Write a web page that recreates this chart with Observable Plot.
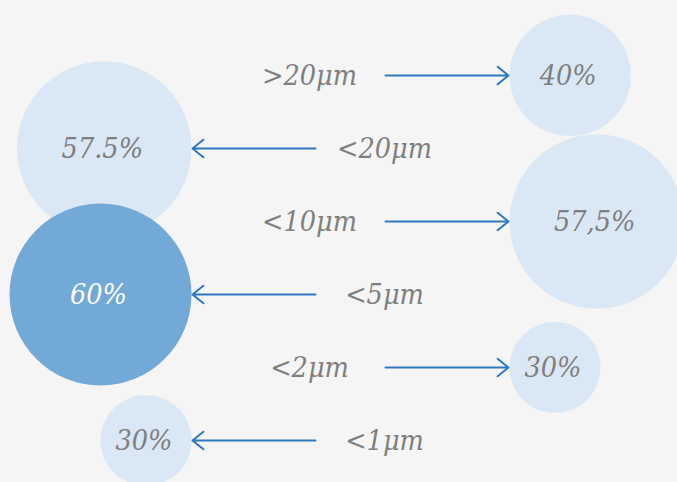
<!DOCTYPE html>
<html><head><meta charset="utf-8">
<script src="https://cdn.jsdelivr.net/npm/d3@7"></script>
<script src="https://cdn.jsdelivr.net/npm/@observablehq/plot@0.6"></script>
<style>html,body{margin:0;padding:0;background:#f5f5f5;overflow:hidden}</style>
</head><body><div id="chart"></div>
<script>
// Data
const sizes = [">20μm", "<20μm", "<10μm", "<5μm", "<2μm", "<1μm"];
const shares = [40, 57.5, 57.5, 60, 30, 30];
const shareLabels = ["40%", "57.5%", "57,5%", "60%", "30%", "30%"];
const sides = ["right", "left", "right", "left", "right", "left"];
const highlighted = [false, false, false, true, false, false];

// Diagram layout (horizontal guide positions)
const W = 677, H = 482;
const layout = {leftEdge: 191, rightEdge: 509, leftArrowStart: 315, rightArrowStart: 385, labelForRight: 309, labelForLeft: 384};

const rScale = Plot.scale({r: {type: "linear", domain: [0, 60], range: [0, 91]}});
const rows = sizes.map((s, i) => {
  const r = rScale.apply(shares[i]);
  const right = sides[i] === "right";
  return {
    size: s, share: shares[i], label: shareLabels[i], side: sides[i], hi: highlighted[i],
    cx: right ? layout.rightEdge + r : layout.leftEdge - r,
    ax1: right ? layout.rightArrowStart : layout.leftArrowStart,
    ax2: right ? layout.rightEdge - 1 : layout.leftEdge + 1,
    lx: right ? layout.labelForRight : layout.labelForLeft
  };
});

const font = "'DejaVu Serif Condensed', 'DejaVu Serif', serif";
const chart = Plot.plot({
  width: W, height: H,
  margin: 0,
  style: {background: "#f5f5f5", overflow: "visible"},
  x: {type: "identity", axis: null},
  y: {type: "point", domain: sizes, range: [73, 441], padding: 0, axis: null},
  r: {type: "linear", domain: [0, 60], range: [0, 91]},
  marks: [
    Plot.dot(rows, {x: "cx", y: "size", r: "share", fill: d => d.hi ? "#72a9d6" : "#dae8f5", stroke: null,
      sort: d => d.hi ? 1 : 0}),
    Plot.text(rows, {x: "cx", y: "size", text: "label", fill: d => d.hi ? "#ffffff" : "#7f7f7f",
      fontSize: 28.5, fontStyle: "italic", fontFamily: font, dx: -2}),
    Plot.arrow(rows, {x1: "ax1", x2: "ax2", y1: "size", y2: "size", stroke: "#2f77c2", strokeWidth: 2,
      headLength: 10.5, headAngle: 78}),
    Plot.text(rows, {x: "lx", y: "size", text: "size", fill: "#7f7f7f",
      fontSize: 28.5, fontStyle: "italic", fontFamily: font})
  ]
});
document.getElementById("chart").appendChild(chart);
</script></body></html>
